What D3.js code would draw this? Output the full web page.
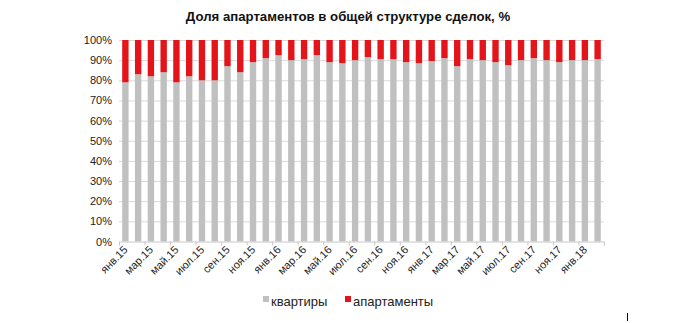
<!DOCTYPE html>
<html>
<head>
<meta charset="utf-8">
<script src="https://cdn.jsdelivr.net/npm/d3@7"></script>
<style>
  html, body { margin: 0; padding: 0; background: #fff; }
  svg { display: block; font-family: Arial, "Liberation Sans", sans-serif; }
</style>
</head>
<body>
<svg id="chart" width="700" height="323"></svg>
<script>
// Monthly share of deal structure, Jan 2015 – Feb 2018
const months = [
  "янв.15","фев.15","мар.15","апр.15","май.15","июн.15","июл.15","авг.15","сен.15","окт.15","ноя.15","дек.15",
  "янв.16","фев.16","мар.16","апр.16","май.16","июн.16","июл.16","авг.16","сен.16","окт.16","ноя.16","дек.16",
  "янв.17","фев.17","мар.17","апр.17","май.17","июн.17","июл.17","авг.17","сен.17","окт.17","ноя.17","дек.17",
  "янв.18","фев.18"
];
// flats share, %
const flats = [
  79, 83, 82, 84, 79, 82, 80, 80, 87, 84, 89, 91,
  92.5, 90, 90.5, 92.5, 89, 88.5, 90, 91.5, 90.5, 90.5, 89, 88.5,
  89.5, 91, 87, 90.5, 90, 89, 87.5, 90, 91, 90, 89, 90,
  90, 90.5
];
// apartments share, % (remainder of 100)
const apartments = flats.map(v => +(100 - v).toFixed(1));
const yTicks = [0, 10, 20, 30, 40, 50, 60, 70, 80, 90, 100];
const seriesNames = ["квартиры", "апартаменты"];
const colors = ["#c0c0c0", "#e3151a"];

const svg = d3.select("#chart");
const plotLeft = 119, plotRight = 604, plotTop = 40, plotBottom = 241.5;

const x = d3.scaleBand().domain(months).range([plotLeft, plotRight]).paddingInner(0.5).paddingOuter(0.25);
const y = d3.scaleLinear().domain([0, 100]).range([plotBottom, plotTop]);

// title
svg.append("text")
  .attr("x", 348).attr("y", 21)
  .attr("text-anchor", "middle")
  .attr("font-size", 13.2).attr("font-weight", "bold").attr("fill", "#111")
  .text("Доля апартаментов в общей структуре сделок, %");

// gridlines
svg.append("g").selectAll("line").data(yTicks.filter(t => t > 0)).join("line")
  .attr("x1", plotLeft).attr("x2", plotRight)
  .attr("y1", d => y(d) + 0.5).attr("y2", d => y(d) + 0.5)
  .attr("stroke", "#d9d9d9").attr("stroke-width", 1);

// y axis labels
const yAxis = d3.axisLeft(y).tickValues(yTicks).tickFormat(d => d + "%").tickSize(0).tickPadding(7);
svg.append("g").attr("transform", `translate(${plotLeft},0)`).call(yAxis)
  .call(g => g.select(".domain").remove())
  .call(g => g.selectAll("text").attr("font-size", 11).attr("fill", "#222").attr("font-family", "Arial, 'Liberation Sans', sans-serif"));

// stacked bars
const rows = months.map((m, i) => ({ month: m, flats: flats[i], apartments: apartments[i] }));
const stack = d3.stack().keys(["flats", "apartments"]);
const layers = stack(rows);
svg.append("g").selectAll("g").data(layers).join("g")
  .attr("fill", (d, i) => colors[i])
  .selectAll("rect").data(d => d).join("rect")
  .attr("x", d => x(d.data.month))
  .attr("width", x.bandwidth())
  .attr("y", d => y(d[1]))
  .attr("height", d => y(d[0]) - y(d[1]));

// x axis line and tick marks every two months
const step = x.step();
svg.append("line")
  .attr("x1", plotLeft).attr("x2", plotRight).attr("y1", plotBottom + 0.5).attr("y2", plotBottom + 0.5)
  .attr("stroke", "#c8c8c8");
const tickPos = d3.range(0, months.length + 1, 2).map(i => plotLeft + i * step);
svg.append("g").selectAll("line").data(tickPos).join("line")
  .attr("x1", d => d + 0.5).attr("x2", d => d + 0.5)
  .attr("y1", plotBottom).attr("y2", plotBottom + 4)
  .attr("stroke", "#c8c8c8");

// x labels (every other month), rotated
svg.append("g").selectAll("text").data(months.filter((m, i) => i % 2 === 0)).join("text")
  .attr("transform", d => `translate(${x(d) + x.bandwidth() / 2 + 3},${plotBottom + 9}) rotate(-45)`)
  .attr("text-anchor", "end")
  .attr("font-size", 11).attr("fill", "#222")
  .text(d => d);

// legend
const legend = svg.append("g");
const legendItems = [
  { name: seriesNames[0], color: colors[0], x: 263 },
  { name: seriesNames[1], color: colors[1], x: 345 }
];
legendItems.forEach(it => {
  legend.append("rect").attr("x", it.x).attr("y", 296).attr("width", 6).attr("height", 6).attr("fill", it.color);
  legend.append("text").attr("x", it.x + 8).attr("y", 305.5)
    .attr("font-size", 13).attr("fill", "#222").text(it.name);
});

// small cursor mark at lower right
svg.append("line").attr("x1", 627.5).attr("x2", 627.5).attr("y1", 313).attr("y2", 321).attr("stroke", "#000");
</script>
</body>
</html>
